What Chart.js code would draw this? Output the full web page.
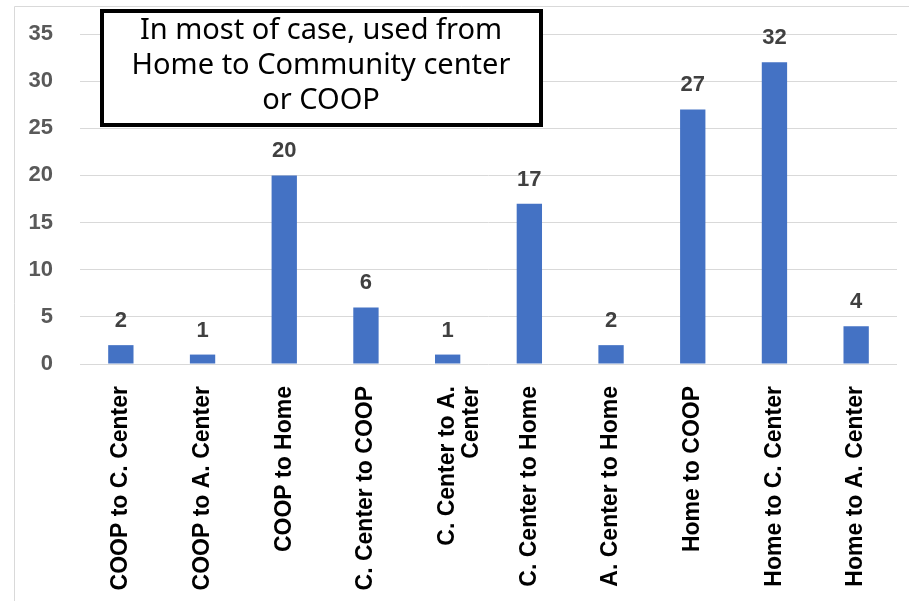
<!DOCTYPE html>
<html>
<head>
<meta charset="utf-8">
<script src="https://cdn.jsdelivr.net/npm/chart.js@4.4.0/dist/chart.umd.min.js"></script>
<style>
  html, body { margin: 0; padding: 0; background: #fff; }
  #wrap { width: 909px; height: 601px; position: relative; }
</style>
</head>
<body>
<div id="wrap"><canvas id="tripChart" width="909" height="601"></canvas></div>
<script>
// Chart data
const routes = [
    'COOP to C. Center',
    'COOP to A. Center',
    'COOP to Home',
    'C. Center to COOP',
    ['C. Center to A.', 'Center'],
    'C. Center to Home',
    'A. Center to Home',
    'Home to COOP',
    'Home to C. Center',
    'Home to A. Center'
];
const tripCounts = [2, 1, 20, 6, 1, 17, 2, 27, 32, 4];
const yTicks = [0, 5, 10, 15, 20, 25, 30, 35];
const noteLines = ['In most of case, used from', 'Home to Community center', 'or COOP'];

const labelFont = 'Liberation Sans, Arial, sans-serif';

// light frame around the chart (left and top edges visible)
const framePlugin = {
    id: 'frame',
    beforeDraw(chart) {
        const c = chart.ctx;
        c.save();
        c.strokeStyle = '#d9d9d9';
        c.lineWidth = 1;
        c.beginPath();
        c.moveTo(14.5, 601);
        c.lineTo(14.5, 6.5);
        c.lineTo(909, 6.5);
        c.stroke();
        c.restore();
    }
};

// value labels above each bar
const valueLabels = {
    id: 'valueLabels',
    afterDatasetsDraw(chart) {
        const c = chart.ctx;
        const meta = chart.getDatasetMeta(0);
        c.save();
        c.font = 'bold 22px ' + labelFont;
        c.fillStyle = '#404040';
        c.textAlign = 'center';
        c.textBaseline = 'middle';
        meta.data.forEach((bar, i) => {
            c.fillText(tripCounts[i], bar.x, bar.y - 24);
        });
        c.restore();
    }
};

// note box in the top-left
const noteBox = {
    id: 'noteBox',
    afterDraw(chart) {
        const c = chart.ctx;
        c.save();
        c.fillStyle = '#fff';
        c.fillRect(100, 9, 443, 118);
        c.strokeStyle = '#000';
        c.lineWidth = 4;
        c.strokeRect(102, 11, 439, 114);
        c.fillStyle = '#000';
        c.font = '29px "Noto Sans", sans-serif';
        c.textAlign = 'center';
        c.textBaseline = 'middle';
        noteLines.forEach((line, i) => {
            c.fillText(line, 321, 31 + i * 35);
        });
        c.restore();
    }
};

const ctx = document.getElementById('tripChart').getContext('2d');
new Chart(ctx, {
    type: 'bar',
    data: {
        labels: routes,
        datasets: [{
            data: tripCounts,
            backgroundColor: '#4472C4',
            categoryPercentage: 1,
            barPercentage: 0.31
        }]
    },
    options: {
        responsive: false,
        animation: false,
        layout: { padding: { left: 14, top: 34, right: 12, bottom: 0 } },
        plugins: {
            legend: { display: false },
            tooltip: { enabled: false }
        },
        scales: {
            x: {
                grid: { display: false, drawTicks: false },
                border: { display: false },
                ticks: {
                    minRotation: 90,
                    maxRotation: 90,
                    autoSkip: false,
                    padding: 22,
                    color: '#000',
                    font: { family: labelFont, size: 23, weight: 'bold', lineHeight: 1.05 }
                },
                afterFit(scale) { scale.height = 237; }
            },
            y: {
                min: 0,
                max: 35,
                afterBuildTicks(scale) {
                    scale.ticks = yTicks.map(v => ({ value: v }));
                },
                grid: { color: '#d9d9d9', lineWidth: 1, drawTicks: false },
                border: { display: false },
                ticks: {
                    padding: 27,
                    color: '#595959',
                    // small lineHeight keeps the axis from pushing the plot top down
                    font: { family: labelFont, size: 22, weight: 'bold', lineHeight: 0.5 }
                },
                afterFit(scale) { scale.width = 66; }
            }
        }
    },
    plugins: [framePlugin, valueLabels, noteBox]
});
</script>
</body>
</html>
